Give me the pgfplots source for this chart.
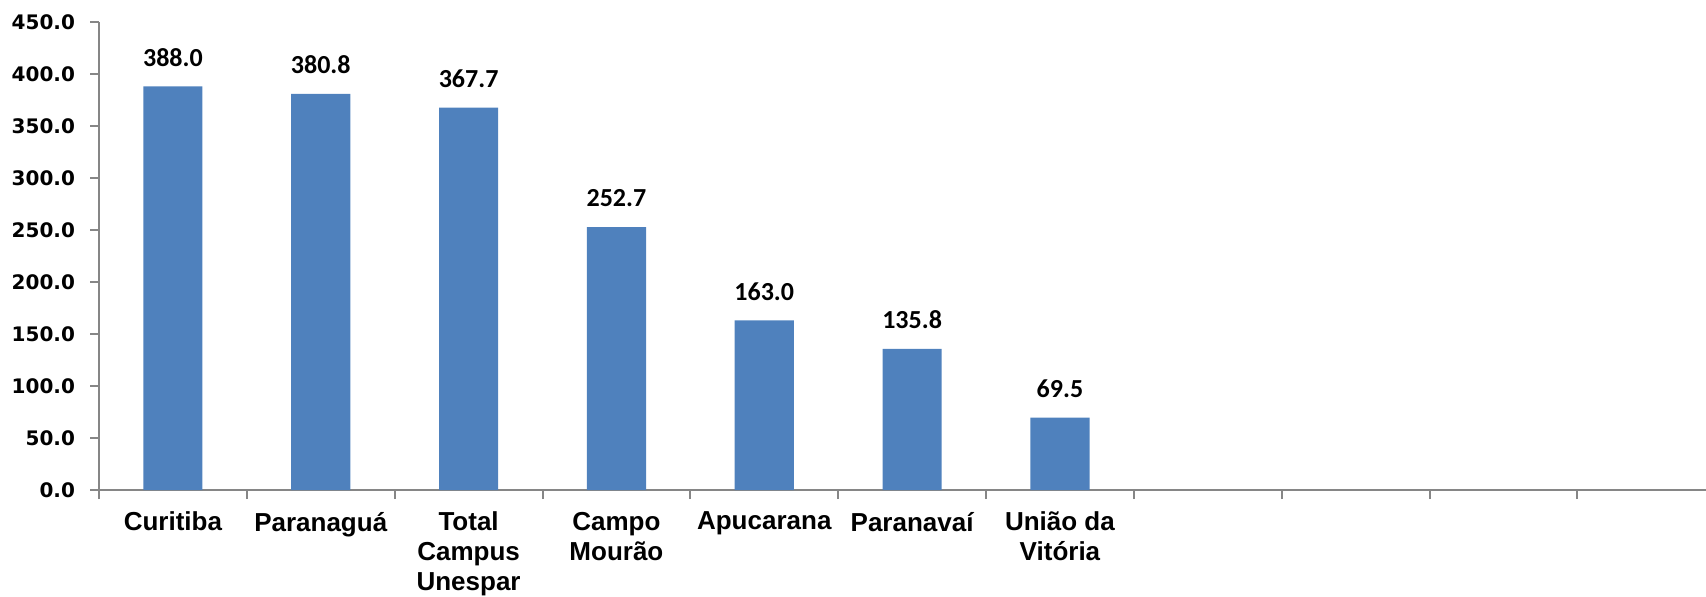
\documentclass[border=0pt]{standalone}
\usepackage{fontspec}
\setmainfont{Liberation Sans}
\newfontfamily\djfont{DejaVu Sans}
\newfontfamily\carlfont{Carlito}
\usepackage{pgfplots}
\pgfplotsset{compat=1.18}
\definecolor{barblue}{HTML}{4F81BD}
\definecolor{axgray}{HTML}{868686}
\begin{document}
\begin{tikzpicture}
\path[use as bounding box] (-49.5pt,-53pt) rectangle (803.5pt,245pt);
\begin{axis}[
  at={(0pt,0pt)}, anchor=south west,
  scale only axis,
  width=803.5pt, height=234pt,
  xmin=-0.5, xmax=10.37,
  ymin=0, ymax=450,
  axis x line*=bottom, axis y line*=left,
  axis line style={axgray, line width=1.2pt},
  ytick={0,50,...,450},
  yticklabel style={font=\djfont\bfseries\fontsize{10}{12}\selectfont, xshift=-4pt},
  y tick label style={/pgf/number format/.cd, fixed, fixed zerofill, precision=1, assume math mode=true},
  xtick={0,...,6},
  xticklabels={Curitiba, Paranaguá, {Total\\Campus\\Unespar}, {Campo\\Mourão}, Apucarana, Paranavaí, {União da\\Vitória}},
  xticklabel style={font=\bfseries\fontsize{13}{15}\selectfont, align=center, yshift=-3pt},
  major x tick style={draw=none},
  minor xtick={-0.5,0.5,...,10.5},
  minor x tick style={axgray, line width=1pt},
  y tick style={axgray, line width=1pt},
  tick align=outside,
  major tick length=4.5pt, minor tick length=4.5pt,
  ybar, bar width=0.4,
  nodes near coords,
  nodes near coords style={yshift=6.5pt, font=\carlfont\bfseries\fontsize{13}{15}\selectfont},
  every node near coord/.append style={/pgf/number format/.cd, fixed, fixed zerofill, precision=1, assume math mode=true},
  clip=false,
]
\addplot[fill=barblue, draw=none] coordinates {
(0,388.0) (1,380.8) (2,367.7) (3,252.7) (4,163.0) (5,135.8) (6,69.5)
};
\end{axis}
\end{tikzpicture}
\end{document}
